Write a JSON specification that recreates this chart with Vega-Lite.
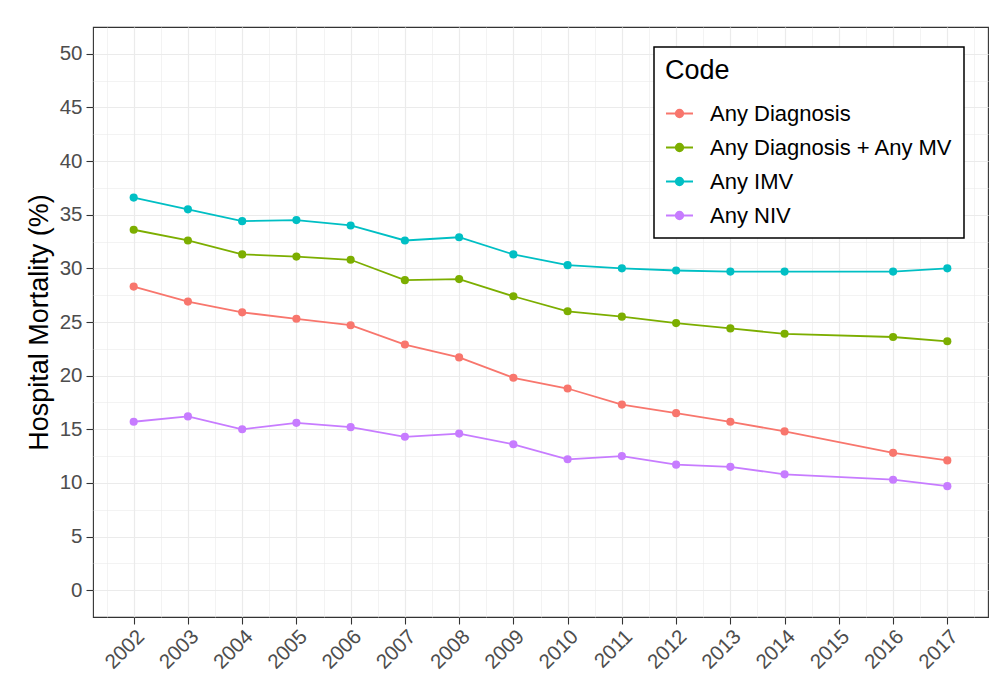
{
  "$schema": "https://vega.github.io/schema/vega-lite/v6.json",
  "width": 895,
  "height": 590,
  "autosize": {"type": "none"},
  "padding": {"left": 93, "top": 27, "right": 6, "bottom": 71},
  "background": "white",
  "config": {
    "font": "Liberation Sans",
    "view": {"stroke": "#333333", "strokeWidth": 1.1},
    "axis": {"domain": false, "labelFont": "Liberation Sans", "titleFont": "Liberation Sans"}
  },
  "data": {
    "values": [
      {"year": 2002, "code": "Any Diagnosis", "value": 28.3},
      {"year": 2003, "code": "Any Diagnosis", "value": 26.9},
      {"year": 2004, "code": "Any Diagnosis", "value": 25.9},
      {"year": 2005, "code": "Any Diagnosis", "value": 25.3},
      {"year": 2006, "code": "Any Diagnosis", "value": 24.7},
      {"year": 2007, "code": "Any Diagnosis", "value": 22.9},
      {"year": 2008, "code": "Any Diagnosis", "value": 21.7},
      {"year": 2009, "code": "Any Diagnosis", "value": 19.8},
      {"year": 2010, "code": "Any Diagnosis", "value": 18.8},
      {"year": 2011, "code": "Any Diagnosis", "value": 17.3},
      {"year": 2012, "code": "Any Diagnosis", "value": 16.5},
      {"year": 2013, "code": "Any Diagnosis", "value": 15.7},
      {"year": 2014, "code": "Any Diagnosis", "value": 14.8},
      {"year": 2016, "code": "Any Diagnosis", "value": 12.8},
      {"year": 2017, "code": "Any Diagnosis", "value": 12.1},
      {"year": 2002, "code": "Any Diagnosis + Any MV", "value": 33.6},
      {"year": 2003, "code": "Any Diagnosis + Any MV", "value": 32.6},
      {"year": 2004, "code": "Any Diagnosis + Any MV", "value": 31.3},
      {"year": 2005, "code": "Any Diagnosis + Any MV", "value": 31.1},
      {"year": 2006, "code": "Any Diagnosis + Any MV", "value": 30.8},
      {"year": 2007, "code": "Any Diagnosis + Any MV", "value": 28.9},
      {"year": 2008, "code": "Any Diagnosis + Any MV", "value": 29.0},
      {"year": 2009, "code": "Any Diagnosis + Any MV", "value": 27.4},
      {"year": 2010, "code": "Any Diagnosis + Any MV", "value": 26.0},
      {"year": 2011, "code": "Any Diagnosis + Any MV", "value": 25.5},
      {"year": 2012, "code": "Any Diagnosis + Any MV", "value": 24.9},
      {"year": 2013, "code": "Any Diagnosis + Any MV", "value": 24.4},
      {"year": 2014, "code": "Any Diagnosis + Any MV", "value": 23.9},
      {"year": 2016, "code": "Any Diagnosis + Any MV", "value": 23.6},
      {"year": 2017, "code": "Any Diagnosis + Any MV", "value": 23.2},
      {"year": 2002, "code": "Any IMV", "value": 36.6},
      {"year": 2003, "code": "Any IMV", "value": 35.5},
      {"year": 2004, "code": "Any IMV", "value": 34.4},
      {"year": 2005, "code": "Any IMV", "value": 34.5},
      {"year": 2006, "code": "Any IMV", "value": 34.0},
      {"year": 2007, "code": "Any IMV", "value": 32.6},
      {"year": 2008, "code": "Any IMV", "value": 32.9},
      {"year": 2009, "code": "Any IMV", "value": 31.3},
      {"year": 2010, "code": "Any IMV", "value": 30.3},
      {"year": 2011, "code": "Any IMV", "value": 30.0},
      {"year": 2012, "code": "Any IMV", "value": 29.8},
      {"year": 2013, "code": "Any IMV", "value": 29.7},
      {"year": 2014, "code": "Any IMV", "value": 29.7},
      {"year": 2016, "code": "Any IMV", "value": 29.7},
      {"year": 2017, "code": "Any IMV", "value": 30.0},
      {"year": 2002, "code": "Any NIV", "value": 15.7},
      {"year": 2003, "code": "Any NIV", "value": 16.2},
      {"year": 2004, "code": "Any NIV", "value": 15.0},
      {"year": 2005, "code": "Any NIV", "value": 15.6},
      {"year": 2006, "code": "Any NIV", "value": 15.2},
      {"year": 2007, "code": "Any NIV", "value": 14.3},
      {"year": 2008, "code": "Any NIV", "value": 14.6},
      {"year": 2009, "code": "Any NIV", "value": 13.6},
      {"year": 2010, "code": "Any NIV", "value": 12.2},
      {"year": 2011, "code": "Any NIV", "value": 12.5},
      {"year": 2012, "code": "Any NIV", "value": 11.7},
      {"year": 2013, "code": "Any NIV", "value": 11.5},
      {"year": 2014, "code": "Any NIV", "value": 10.8},
      {"year": 2016, "code": "Any NIV", "value": 10.3},
      {"year": 2017, "code": "Any NIV", "value": 9.7}
    ]
  },
  "layer": [
    {
      "mark": {"type": "point", "opacity": 0},
      "encoding": {
        "x": {
          "field": "year", "type": "quantitative",
          "scale": {"domain": [2001.25, 2017.75], "nice": false, "zero": false},
          "axis": {
            "orient": "top", "values": [2001.5, 2002.5, 2003.5, 2004.5, 2005.5, 2006.5, 2007.5, 2008.5, 2009.5, 2010.5, 2011.5, 2012.5, 2013.5, 2014.5, 2015.5, 2016.5, 2017.5],
            "grid": true, "gridColor": "#EBEBEB", "gridWidth": 0.6, "labels": false, "ticks": false, "domain": false, "title": null
          }
        },
        "y": {
          "field": "value", "type": "quantitative",
          "scale": {"domain": [-2.5, 52.5], "nice": false, "zero": false},
          "axis": {
            "orient": "right", "values": [2.5, 7.5, 12.5, 17.5, 22.5, 27.5, 32.5, 37.5, 42.5, 47.5],
            "grid": true, "gridColor": "#EBEBEB", "gridWidth": 0.6, "labels": false, "ticks": false, "domain": false, "title": null
          }
        }
      }
    },
    {
      "mark": {"type": "line", "strokeWidth": 1.8, "point": {"filled": true, "size": 66, "opacity": 1}},
      "encoding": {
        "x": {
          "field": "year", "type": "quantitative",
          "scale": {"domain": [2001.25, 2017.75], "nice": false, "zero": false},
          "axis": {
            "orient": "bottom",
            "values": [2002, 2003, 2004, 2005, 2006, 2007, 2008, 2009, 2010, 2011, 2012, 2013, 2014, 2015, 2016, 2017],
            "format": "d", "labelAngle": -45, "labelAlign": "right", "labelBaseline": "top",
            "labelFontSize": 20.5, "labelColor": "#4D4D4D", "labelPadding": 2,
            "tickColor": "#333333", "tickSize": 7, "tickWidth": 1.1,
            "grid": true, "gridColor": "#EBEBEB", "gridWidth": 1.2, "title": null
          }
        },
        "y": {
          "field": "value", "type": "quantitative",
          "scale": {"domain": [-2.5, 52.5], "nice": false, "zero": false},
          "axis": {
            "orient": "left",
            "values": [0, 5, 10, 15, 20, 25, 30, 35, 40, 45, 50],
            "labelFontSize": 20.5, "labelColor": "#4D4D4D", "labelPadding": 4,
            "tickColor": "#333333", "tickSize": 7, "tickWidth": 1.1,
            "grid": true, "gridColor": "#EBEBEB", "gridWidth": 1.2,
            "title": "Hospital Mortality (%)", "titleFontSize": 27, "titleFontWeight": "normal", "titleColor": "black", "titlePadding": 6
          }
        },
        "color": {
          "field": "code", "type": "nominal",
          "scale": {"domain": ["Any Diagnosis", "Any Diagnosis + Any MV", "Any IMV", "Any NIV"], "range": ["#F8766D", "#7CAE00", "#00BFC4", "#C77CFF"]},
          "legend": {
            "orient": "none", "legendX": 561, "legendY": 20,
            "title": "Code", "titleFontSize": 27, "titleFontWeight": "normal", "titleColor": "black", "titlePadding": 14,
            "labelFontSize": 22, "labelColor": "black", "labelOffset": 16, "labelLimit": 400,
            "strokeColor": "black", "padding": 11, "fillColor": "white",
            "symbolType": "M-1,0H1M-0.28,0A0.28,0.28,0,1,1,0.28,0A0.28,0.28,0,1,1,-0.28,0Z",
            "symbolSize": 729, "symbolStrokeWidth": 1.8, "rowPadding": 8,
            "encode": {
              "legend": {"update": {"strokeWidth": {"value": 1.5}}},
              "symbols": {"update": {"fill": {"scale": "color", "field": "value"}, "fillOpacity": {"value": 1}, "opacity": {"value": 1}}}
            }
          }
        }
      }
    }
  ],
  "resolve": {"axis": {"x": "independent", "y": "independent"}}
}
